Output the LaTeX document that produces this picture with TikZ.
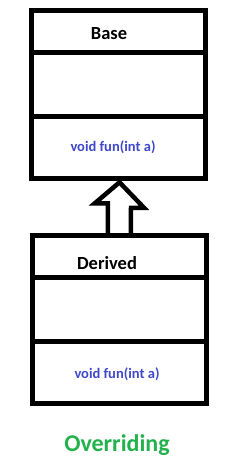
\documentclass[tikz,border=0pt]{standalone}
\usepackage{fontspec}
\setmainfont{Carlito}
\usetikzlibrary{calc}
\definecolor{blumetodo}{RGB}{63,72,204}
\definecolor{verdetitolo}{RGB}{34,177,76}

\begin{document}
\begin{tikzpicture}[
  x=1pt, y=1pt,
  bordo/.style={draw=black, line width=5pt},
  classe/.style={bordo, rectangle, inner sep=0pt, minimum width=173.5pt,
                 minimum height=168pt},
  freccia/.style={draw=black, line width=4.5pt, line join=miter},
  nomeclasse/.style={font=\bfseries\fontsize{18.5}{20}\selectfont, inner sep=1pt},
  metodo/.style={font=\bfseries\fontsize{14.5}{16}\selectfont,
                 text=blumetodo, inner sep=1pt},
  titolo/.style={font=\bfseries\fontsize{24}{26}\selectfont,
                 text=verdetitolo, inner sep=1pt}
]
\useasboundingbox (0,0) rectangle (235,468);

%--------------------------------------------------------------
% Classi
%--------------------------------------------------------------
\node[classe] (base)    at (118.7,373.2) {};
\node[classe] (derived) at (119.3,148.2) {};

% Separatori tra nome, attributi e metodi
\foreach \classe in {base, derived}
  \foreach \dy in {44, 108.5}
    \draw[bordo] ([yshift=-\dy pt]\classe.north west) --
                 ([yshift=-\dy pt]\classe.north east);

%--------------------------------------------------------------
% Testi
%--------------------------------------------------------------
\node[nomeclasse] (nomebase)    at (109,434) {Base};
\node[metodo]     (funbase)     at (113,321) {void fun(int a)};
\node[nomeclasse] (nomederived) at (107,205) {Derived};
\node[metodo]     (funderived)  at (117,94)  {void fun(int a)};
\node[titolo]     (titolo)      at (117,23)  {Overriding};

%--------------------------------------------------------------
% Freccia di ereditarieta' (vuota)
%--------------------------------------------------------------
\draw[freccia] ([xshift=-11.5pt]derived.north) -- ++(0,30) -- ++(-13,0)
  -- ([xshift=0.8pt,yshift=-1pt]base.south) -- ++(24.5,-25.5) -- ++(-13,0)
  -- ([xshift=11.5pt]derived.north);

\end{tikzpicture}
\end{document}
